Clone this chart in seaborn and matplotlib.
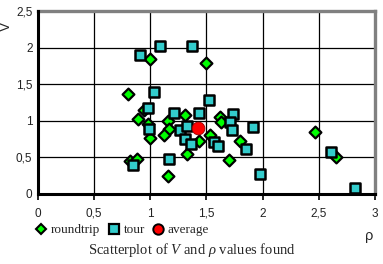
import matplotlib
matplotlib.use("Agg")
import matplotlib.pyplot as plt
import seaborn as sns
import pandas as pd
from matplotlib.lines import Line2D

# ---- data ----
roundtrip_rho = [0.80, 1.00, 0.94, 0.89, 0.98, 1.00, 1.16, 1.31, 1.17, 1.12, 1.33, 1.16,
                 0.82, 0.88, 1.50, 1.62, 1.63, 1.53, 1.43, 1.80, 1.70, 2.47, 2.65]
roundtrip_V = [1.37, 1.84, 1.15, 1.03, 0.95, 0.77, 1.00, 1.085, 0.89, 0.81, 0.55, 0.25,
               0.45, 0.48, 1.79, 1.05, 0.98, 0.81, 0.72, 0.73, 0.46, 0.85, 0.50]
tour_rho = [1.09, 1.37, 0.905, 1.03, 0.98, 0.99, 1.21, 1.43, 1.26, 1.33, 1.31, 1.36, 1.17,
            0.85, 1.52, 1.74, 1.71, 1.73, 1.91, 1.57, 1.60, 1.85, 1.98, 2.61, 2.82]
tour_V = [2.02, 2.02, 1.90, 1.40, 1.18, 0.89, 1.10, 1.10, 0.87, 0.925, 0.75, 0.68, 0.48,
          0.39, 1.28, 1.09, 0.99, 0.88, 0.91, 0.71, 0.655, 0.62, 0.28, 0.58, 0.087]
average_rho = [1.42]
average_V = [0.90]

x_ticks = [0, 0.5, 1, 1.5, 2, 2.5, 3]
x_tick_labels = ["0", "0,5", "1", "1,5", "2", "2,5", "3"]
y_ticks = [0, 0.5, 1, 1.5, 2, 2.5]
y_tick_labels = ["0", "0,5", "1", "1,5", "2", "2,5"]

df_r = pd.DataFrame({"rho": roundtrip_rho, "V": roundtrip_V})
df_t = pd.DataFrame({"rho": tour_rho, "V": tour_V})
df_a = pd.DataFrame({"rho": average_rho, "V": average_V})

sns.set_style("white")
plt.rcParams["font.family"] = ["Liberation Sans", "DejaVu Sans"]
plt.rcParams["mathtext.fontset"] = "custom"
plt.rcParams["mathtext.rm"] = "Liberation Serif"
plt.rcParams["mathtext.it"] = "Liberation Serif:italic"

fig = plt.figure(figsize=(3.83, 2.64), dpi=100)
ax = fig.add_axes([38 / 383, 1 - 194 / 264, (375 - 38) / 383, (194 - 11) / 264])

green = "#00FF00"
cyan = "#33CCCC"
red = "#FF0000"

sns.scatterplot(data=df_r, x="rho", y="V", marker="D", s=36, color=green,
                edgecolor="black", linewidth=1.6, ax=ax, zorder=3)
sns.scatterplot(data=df_t, x="rho", y="V", marker="s", s=50, color=cyan,
                edgecolor="black", linewidth=1.8, ax=ax, zorder=4)
sns.scatterplot(data=df_a, x="rho", y="V", marker="o", s=85, color=red,
                edgecolor="#990000", linewidth=0.6, ax=ax, zorder=5)

ax.set_xlim(0, 3)
ax.set_ylim(0, 2.5)
ax.set_xticks(x_ticks)
ax.set_xticklabels(x_tick_labels)
ax.set_yticks(y_ticks)
ax.set_yticklabels(y_tick_labels)
ax.grid(True, color="black", linewidth=0.9)
ax.set_axisbelow(True)
ax.tick_params(axis="x", direction="out", length=4, width=1.2, pad=6,
               labelsize=8.5, colors="black", bottom=True)
ax.tick_params(axis="y", length=0, pad=4, labelsize=8.5, colors="black")
for lbl in ax.get_xticklabels() + ax.get_yticklabels():
    lbl.set_color("#222222")
ax.set_xlabel("")
ax.set_ylabel("")

for side in ["top", "right"]:
    ax.spines[side].set_color("#808080")
    ax.spines[side].set_linewidth(2.4)
for side in ["left", "bottom"]:
    ax.spines[side].set_color("black")
    ax.spines[side].set_linewidth(2.2)
    ax.spines[side].set_zorder(6)

fig.text(6 / 383, 1 - 26 / 264, "V", rotation=90, fontsize=10, ha="center", va="center")
fig.text(369 / 383, 1 - 236 / 264, "ρ", fontsize=10.5, ha="center", va="center")

handles = [
    Line2D([], [], marker="D", linestyle="none", markersize=5.5, markerfacecolor=green,
           markeredgecolor="black", markeredgewidth=1.5),
    Line2D([], [], marker="s", linestyle="none", markersize=6.5, markerfacecolor=cyan,
           markeredgecolor="black", markeredgewidth=1.6),
    Line2D([], [], marker="o", linestyle="none", markersize=7.5, markerfacecolor=red,
           markeredgecolor="black", markeredgewidth=1.4),
]
fig.legend(handles, ["roundtrip", "tour", "average"], loc="center left",
           bbox_to_anchor=(36 / 383, 1 - 230 / 264), ncol=3, frameon=False,
           handlelength=0.8, handletextpad=0.35, columnspacing=0.6, borderaxespad=0,
           borderpad=0, prop={"family": "Liberation Serif", "size": 9.5})

fig.text(192 / 383, 1 - 250 / 264, r"Scatterplot of $V$ and $\rho$ values found",
         fontsize=10.5, family="Liberation Serif", ha="center", va="center")

fig.savefig("out.png", dpi=100)
